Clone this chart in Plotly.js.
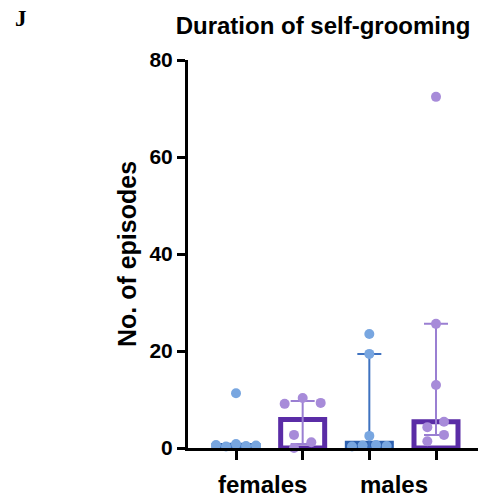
<!DOCTYPE html>
<html>
<head>
<meta charset="utf-8">
<script src="https://cdn.plot.ly/plotly-3.0.1.min.js"></script>
<style>html,body{margin:0;padding:0;background:#fff;}#chart{width:482px;height:500px;}</style>
</head>
<body>
<div id="chart"></div>
<script>
// ---- data ----
var groups = ["females", "males"];
var groupPos = [0.39, 2.37];
var barPos = [0, 1, 2, 3];
var medians = [0.5, 5.9, 1.0, 5.4];
var upper = [0.9, 9.7, 19.4, 25.6];
var lower = [0.2, 0.8, 0.0, 2.7];

var femBlueVals = [11.3, 0.6, 0.3, 0.8, 0.4, 0.5];
var femBlueOff  = [0, -0.3, -0.15, 0, 0.15, 0.3];
var femPurpleVals = [9.1, 10.3, 9.3, 2.7, 1.2, 0.0];
var femPurpleOff  = [-0.27, 0, 0.27, -0.13, 0.13, -0.13];
var maleBlueVals = [23.5, 19.4, 2.5, 0.3, 0.5, 0.6, 0.4];
var maleBlueOff  = [0, 0, 0, -0.26, -0.1, 0.1, 0.26];
var malePurpleVals = [72.4, 25.6, 13.0, 5.4, 4.3, 2.7, 1.4];
var malePurpleOff  = [0, 0, 0, 0.12, -0.13, 0.12, -0.13];

var yTicks = [0, 20, 40, 60, 80];

// ---- styles ----
var FONT = "Liberation Sans, Arial, sans-serif";
var blueDot = "#78a6e0", purpleDot = "#a78bd9";
var blueLine = "#3f72c0", purpleLine = "#9a7fd2";
var blueBar = "#2f62b0", purpleBar = "#5a2ca6";
var barColors = [blueBar, purpleBar, blueBar, purpleBar];
var errColors = [blueLine, purpleLine, blueLine, purpleLine];

var traces = [];
traces.push({
  type: "bar", x: barPos, y: medians, width: 0.66,
  marker: {color: "rgba(255,255,255,0)", line: {color: barColors, width: 5}},
  hoverinfo: "skip", showlegend: false
});
for (var i = 0; i < barPos.length; i++) {
  traces.push({
    type: "scatter", mode: "markers", x: [barPos[i]], y: [medians[i]],
    marker: {size: 1, opacity: 0},
    error_y: {type: "data", symmetric: false,
      array: [upper[i] - medians[i]], arrayminus: [medians[i] - lower[i]],
      color: errColors[i], thickness: 2, width: 12},
    showlegend: false, hoverinfo: "skip", cliponaxis: false
  });
}
function dots(vals, off, pos, col) {
  return {
    type: "scatter", mode: "markers",
    x: vals.map(function(v, k){ return pos + off[k]; }), y: vals,
    marker: {color: col, size: 10, line: {width: 0}},
    showlegend: false, cliponaxis: false
  };
}
traces.push(dots(femBlueVals, femBlueOff, barPos[0], blueDot));
traces.push(dots(femPurpleVals, femPurpleOff, barPos[1], purpleDot));
traces.push(dots(maleBlueVals, maleBlueOff, barPos[2], blueDot));
traces.push(dots(malePurpleVals, malePurpleOff, barPos[3], purpleDot));

var annotations = groups.map(function(g, k){
  return {x: groupPos[k], xref: "x", y: 0, yref: "paper", yanchor: "middle",
    yshift: -36, text: "<b>" + g + "</b>", showarrow: false,
    font: {family: FONT, size: 24, color: "#000"}};
});
annotations.push({x: (21 - 188) / 290, xref: "paper", y: 1 + 41 / 388, yref: "paper",
  xanchor: "center", yanchor: "middle", text: "<b>J</b>", showarrow: false,
  font: {family: "Liberation Serif, Times New Roman, serif", size: 23, color: "#000"}});

var layout = {
  width: 482, height: 500,
  margin: {l: 188, r: 4, t: 60, b: 52},
  paper_bgcolor: "#fff", plot_bgcolor: "#fff",
  barmode: "overlay",
  title: {text: "<b>Duration of self-grooming</b>", x: 323/482, xanchor: "center",
    xref: "container", y: 1 - 26/500, yref: "container", yanchor: "middle",
    font: {family: FONT, size: 24, color: "#000"}},
  xaxis: {range: [-0.72, 3.63], tickvals: barPos, ticktext: barPos.map(function(){return "";}),
    ticks: "outside", ticklen: 9, tickwidth: 3, tickcolor: "#000",
    showline: true, linecolor: "#000", linewidth: 3, showgrid: false, zeroline: false,
    fixedrange: true},
  yaxis: {range: [0, 80], tickvals: yTicks, ticks: "outside", ticklen: 8, tickwidth: 3,
    tickcolor: "#000", showline: true, linecolor: "#000", linewidth: 3,
    showgrid: false, zeroline: false,
    tickfont: {family: FONT, size: 21, color: "#000", weight: "bold"},
    title: {text: "<b>No. of episodes</b>", standoff: 6,
      font: {family: FONT, size: 25, color: "#000"}}},
  annotations: annotations,
  showlegend: false
};
Plotly.newPlot("chart", traces, layout, {displayModeBar: false, staticPlot: true});
</script>
</body>
</html>
